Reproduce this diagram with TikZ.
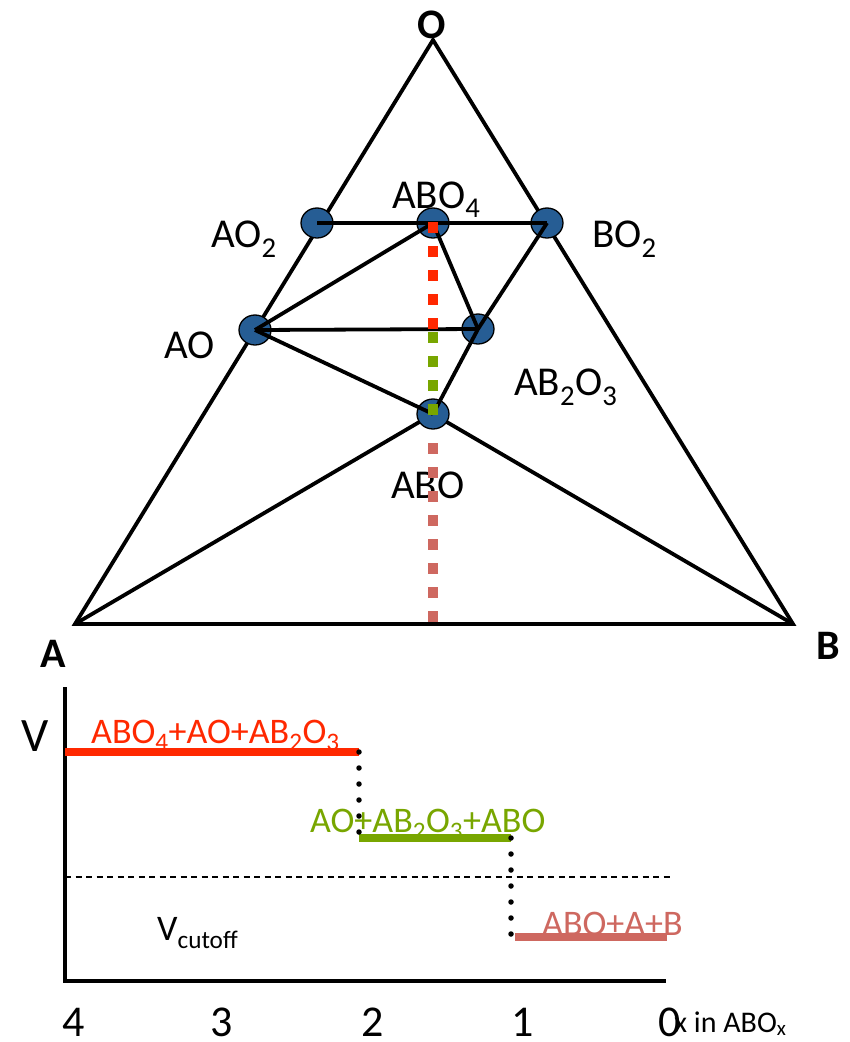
\documentclass[tikz,border=0pt]{standalone}
\usepackage{fontspec}
\setmainfont{Carlito}
\usetikzlibrary{shapes.geometric}
\definecolor{phaseblue}{RGB}{38,93,148}
\definecolor{redph}{RGB}{255,40,0}
\definecolor{greenph}{RGB}{120,166,0}
\definecolor{roseph}{RGB}{206,104,96}
\newcommand\setfs[1]{\fontsize{#1}{#1}\selectfont}
\tikzset{
  edge/.style={line width=3.8pt, line cap=round},
  tie/.style={line width=3.8pt},
  phase/.style={ellipse, draw=black, line width=1.3pt, fill=phaseblue, minimum width=32pt, minimum height=30pt, inner sep=0pt},
  lbl/.style={inner sep=0pt, anchor=base west, font=\setfs{41}},
  corner/.style={inner sep=0pt, anchor=base, font=\setfs{42}\bfseries},
  vdash/.style={line width=10pt, dash pattern=on 11pt off 13pt},
  axis/.style={line width=3.2pt},
  bar/.style={line width=8pt},
  dots/.style={line width=5.5pt, line cap=round, dash pattern=on 0pt off 16pt},
  clbl/.style={inner sep=0pt, anchor=base west, font=\setfs{36}},
  tick/.style={inner sep=0pt, anchor=base, font=\setfs{44}}
}
\begin{document}
\begin{tikzpicture}[x=1pt,y=-1pt]
\useasboundingbox (0,0) rectangle (850,1042);
% triangle corners
\coordinate (O) at (433,40);
\coordinate (A) at (75,624);
\coordinate (B) at (793,624);
\node[corner] (lO) at (432,38) {O};
\node[corner] (lA) at (53,667) {A};
\node[corner] (lB) at (828,659) {B};
\draw[edge] (A) -- (O) -- (B) -- cycle;
% phases
\coordinate (pAO2) at (317,223);
\coordinate (pABO4) at (433,223);
\coordinate (pBO2) at (547,223);
\coordinate (pAO) at (255,330);
\coordinate (pAB2O3) at (478,329);
\coordinate (pABO) at (433,414);
\draw[tie] (pABO) -- (A) (pABO) -- (B);
\node[phase] (ao2) at (pAO2) {};
\node[phase] (abo4) at (pABO4) {};
\node[phase] (bo2) at (pBO2) {};
\node[phase] (ao) at (pAO) {};
\node[phase] (ab2o3) at (pAB2O3) {};
\node[phase] (abo) at (pABO) {};
\draw[tie] (ao2.center) -- (bo2.center);
\draw[tie] (abo4.center) -- (ao.center);
\draw[tie] (abo4.center) -- (ab2o3.center);
\draw[tie] (bo2.center) -- (ab2o3.center) -- (abo.center);
\draw[tie] (ao.center) -- (ab2o3.center);
\draw[tie] (ao.center) -- (abo.center);
% labels
\node[lbl] (tAO2) at (211,247) {AO\textsubscript{2}};
\node[lbl] (tABO4) at (392,208) {ABO\textsubscript{4}};
\node[lbl] (tBO2) at (592,247) {BO\textsubscript{2}};
\node[lbl] (tAO) at (164,358) {AO};
\node[lbl] (tAB2O3) at (514,395) {AB\textsubscript{2}O\textsubscript{3}};
\node[lbl] (tABO) at (391,498) {ABO};
% composition line
\coordinate (c1) at (433,222);
\coordinate (c2) at (433,333);
\coordinate (c3) at (433,332);
\coordinate (c4) at (433,416);
\coordinate (c5) at (433,443);
\coordinate (c6) at (433,622);
\draw[vdash, redph] (c1) -- (c2);
\draw[vdash, greenph] (c3) -- (c4);
\draw[vdash, roseph] (c5) -- (c6);
% voltage chart
\coordinate (yTop) at (65,687);
\coordinate (org) at (65,981);
\coordinate (xEnd) at (666,981);
\draw[axis] (yTop) -- (org) -- (xEnd);
\coordinate (r1) at (65,752);
\coordinate (r2) at (359,752);
\coordinate (g1) at (359,838);
\coordinate (g2) at (511,838);
\coordinate (s1) at (511,937);
\coordinate (s0) at (515,937);
\coordinate (s2) at (667,937);
\coordinate (k1) at (65,877);
\coordinate (k2) at (673,877);
\draw[line width=1.5pt, dash pattern=on 6pt off 4.5pt] (k1) -- (k2);
\draw[bar, redph] (r1) -- (r2);
\draw[bar, greenph] (g1) -- (g2);
\draw[bar, roseph] (s0) -- (s2);
\draw[dots] (r2) -- (g1);
\draw[dots] (g2) -- (s1);
\node[inner sep=0pt, anchor=base, font=\setfs{48}] (tV) at (35,751) {V};
\node[clbl, text=redph] (tR) at (91,743) {ABO\textsubscript{4}+AO+AB\textsubscript{2}O\textsubscript{3}};
\node[clbl, text=greenph] (tG) at (310,832) {AO+AB\textsubscript{2}O\textsubscript{3}+ABO};
\node[clbl, text=roseph] (tS) at (542,935) {ABO+A+B};
\node[clbl] (tVc) at (157,940) {V\textsubscript{cutoff}};
\node[tick] (x4) at (74,1036) {4};
\node[tick] (x3) at (222,1036) {3};
\node[tick] (x2) at (373,1036) {2};
\node[tick] (x1) at (523,1036) {1};
\node[tick] (x0) at (670,1036) {0};
\node[inner sep=0pt, anchor=base west, font=\setfs{30}] (xl) at (674,1032) {x in ABO\textsubscript{x}};
\end{tikzpicture}
\end{document}
